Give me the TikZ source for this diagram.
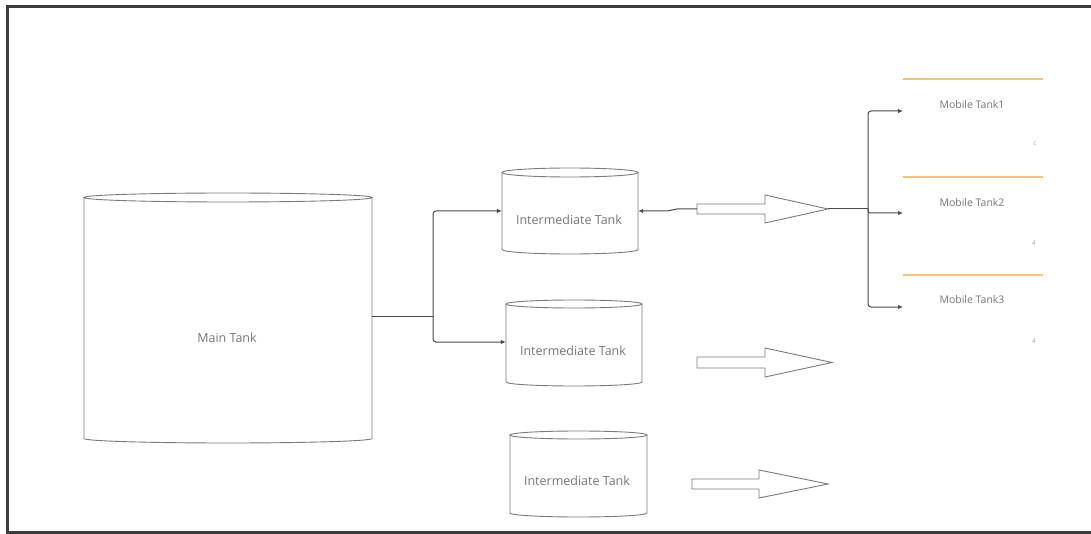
\documentclass[tikz,border=0pt]{standalone}
\usepackage{fontspec}
\setmainfont{Open Sans}
\usetikzlibrary{arrows.meta}
\definecolor{framecol}{HTML}{3C3C3C}
\definecolor{lncol}{HTML}{4A4A4A}
\definecolor{tkcol}{HTML}{7A7A7A}
\definecolor{txtcol}{HTML}{777777}
\definecolor{orgcol}{HTML}{F2C47A}
\begin{document}
\begin{tikzpicture}[x=1pt,y=-1pt,
  tankline/.style={draw=tkcol, line width=0.9pt},
  body/.style={draw=none, inner sep=0pt, rectangle},
  lbl/.style={text=txtcol, font=\fontsize{12.5}{14}\selectfont, inner sep=0pt},
  mlbl/.style={text=txtcol, font=\fontsize{10.5}{12}\selectfont, inner sep=0pt},
  tiny/.style={text=black!35, font=\fontsize{6.5}{7}\selectfont, inner sep=0pt},
  plain/.style={draw=lncol, line width=1pt},
  conn/.style={draw=lncol, line width=1pt, -{Latex[length=5pt,width=4.5pt]}},
  fat/.style={draw=tkcol, line width=0.9pt, fill=white},
  orangebar/.style={draw=orgcol, line width=2.5pt},
]
\useasboundingbox (0,0) rectangle (1091,534);
\fill[white] (0,0) rectangle (1091,534);
\draw[draw=framecol, line width=3pt] (7,7) rectangle (1100,532);

% Main tank
\draw[tankline] (228,197.5) ellipse[x radius=144pt, y radius=4.5pt];
\draw[tankline] (84,197.5) -- (84,438.5) arc[start angle=180,end angle=360,x radius=144pt,y radius=4.5pt] -- (372,197.5);
\node[body, minimum width=288pt, minimum height=250pt] (main) at (228,316) {};
\node[lbl] (mainlbl) at (227,338) {Main Tank};

% Intermediate tank 1
\draw[tankline] (570,172.5) ellipse[x radius=68pt, y radius=4.5pt];
\draw[tankline] (502,172.5) -- (502,249.5) arc[start angle=180,end angle=360,x radius=68pt,y radius=4.5pt] -- (638,172.5);
\node[body, minimum width=136pt, minimum height=86pt] (it1) at (570,211) {};
\node[lbl] (it1lbl) at (569,220) {Intermediate Tank};

% Intermediate tank 2
\draw[tankline] (574,304) ellipse[x radius=68pt, y radius=4pt];
\draw[tankline] (506,304) -- (506,382) arc[start angle=180,end angle=360,x radius=68pt,y radius=4pt] -- (642,304);
\node[body, minimum width=136pt, minimum height=86pt] (it2) at (574,342) {};
\node[lbl] (it2lbl) at (573,351) {Intermediate Tank};

% Intermediate tank 3
\draw[tankline] (578.5,435) ellipse[x radius=68.5pt, y radius=4pt];
\draw[tankline] (510,435) -- (510,513) arc[start angle=180,end angle=360,x radius=68.5pt,y radius=4pt] -- (647,435);
\node[body, minimum width=137pt, minimum height=86pt] (it3) at (578.5,474) {};
\node[lbl] (it3lbl) at (577,481) {Intermediate Tank};

% Main tank -> intermediate tanks
\coordinate (split) at (433,316);
\draw[plain] (main.east) -- (split);
\draw[conn, rounded corners=3pt] (split) |- (it1.west);
\draw[conn, rounded corners=3pt] (split) |- (it2.west);

% Fat arrows
\coordinate (a1tail) at (697,209);
\coordinate (a1tip) at (828,209);
\draw[fat] (697,204) -- (765,204) -- (765,195) -- (a1tip) -- (765,223) -- (765,214) -- (697,214) -- cycle;
\draw[fat] (697,357) -- (765,357) -- (765,348) -- (832,362.5) -- (765,377) -- (765,368) -- (697,368) -- cycle;
\draw[fat] (692,479) -- (759,479) -- (759,470) -- (828,484) -- (759,498) -- (759,489) -- (692,489) -- cycle;

% Tank 1 right connector
\draw[conn] (a1tail) -- (677,209) -- (667,211) -- (it1.east);

% Mobile tanks
\draw[orangebar] (903,79) -- (1043,79);
\draw[orangebar] (903,177) -- (1043,177);
\draw[orangebar] (903,275) -- (1043,275);
\node[mlbl] (mt1) at (972,105) {Mobile Tank1};
\node[mlbl] (mt2) at (972,203) {Mobile Tank2};
\node[mlbl] (mt3) at (972,300) {Mobile Tank3};
\node[tiny] (k1) at (1035,144) {c};
\node[tiny] (k2) at (1034,243) {4};
\node[tiny] (k3) at (1034,341) {4};

\coordinate (hub) at (868,209);
\coordinate (m1) at (903,111);
\coordinate (m2) at (903,213);
\coordinate (m3) at (903,307);
\draw[plain] (a1tip) -- (hub);
\draw[conn, rounded corners=3pt] (hub) |- (m1);
\draw[conn, rounded corners=2pt] (hub) |- (m2);
\draw[conn, rounded corners=3pt] (hub) |- (m3);
\end{tikzpicture}
\end{document}
